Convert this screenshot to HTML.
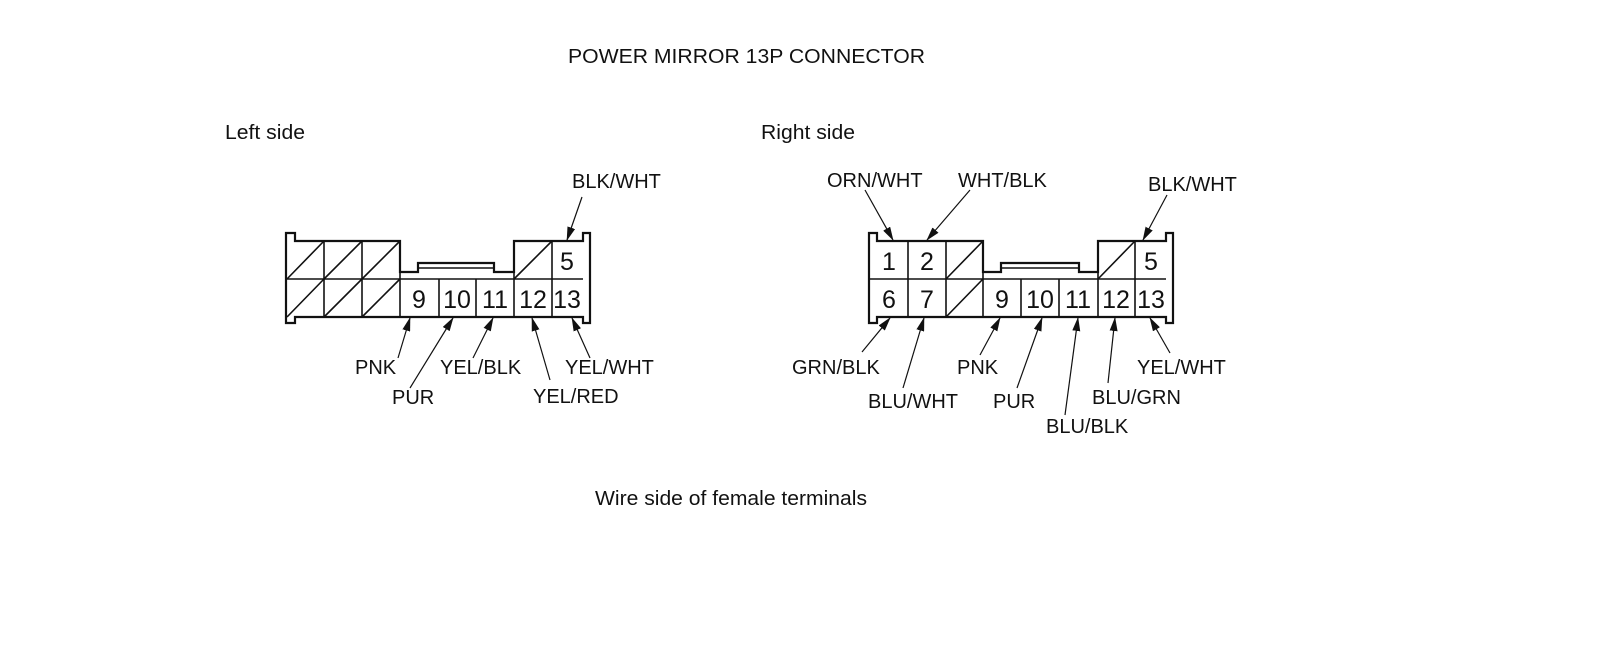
<!DOCTYPE html>
<html><head><meta charset="utf-8"><style>
html,body{margin:0;padding:0;background:#fff;}
svg{display:block;}
text{font-family:"Liberation Sans",Arial,sans-serif;fill:#111;}
</style></head><body>
<svg width="1600" height="672" viewBox="0 0 1600 672" xmlns="http://www.w3.org/2000/svg">
<defs>
<marker id="ah" markerWidth="14" markerHeight="8" refX="13" refY="4" orient="auto" markerUnits="userSpaceOnUse">
<path d="M0,0 L14,4 L0,8 Z" fill="#111"/>
</marker>
</defs>
<rect width="1600" height="672" fill="#fff"/>

<text x="568" y="63" font-size="20" textLength="357" lengthAdjust="spacingAndGlyphs">POWER MIRROR 13P CONNECTOR</text>
<text x="225" y="139" font-size="20" textLength="80" lengthAdjust="spacingAndGlyphs">Left side</text>
<text x="761" y="139" font-size="20" textLength="94" lengthAdjust="spacingAndGlyphs">Right side</text>
<text x="595" y="505" font-size="20" textLength="272" lengthAdjust="spacingAndGlyphs">Wire side of female terminals</text>

<!-- LEFT CONNECTOR -->
<g stroke="#111" fill="none" stroke-width="2.2">
<path d="M286,233 H295 V241 H400 V272 H418 V263 H494 V272 H514 V241 H583 V233 H590 V323 H583 V317 H295 V323 H286 Z"/>
</g>
<g stroke="#111" fill="none" stroke-width="1.6">
<line x1="286" y1="279" x2="583" y2="279"/>
<line x1="400" y1="272" x2="400" y2="317"/>
<line x1="324" y1="241" x2="324" y2="317"/>
<line x1="362" y1="241" x2="362" y2="317"/>
<line x1="439" y1="279" x2="439" y2="317"/>
<line x1="476" y1="279" x2="476" y2="317"/>
<line x1="514" y1="272" x2="514" y2="317"/>
<line x1="552" y1="241" x2="552" y2="317"/>
<line x1="418" y1="268" x2="494" y2="268"/>
<!-- slashes -->
<line x1="287" y1="279" x2="324" y2="241"/>
<line x1="324" y1="279" x2="362" y2="241"/>
<line x1="362" y1="279" x2="400" y2="241"/>
<line x1="287" y1="317" x2="324" y2="279"/>
<line x1="324" y1="317" x2="362" y2="279"/>
<line x1="362" y1="317" x2="400" y2="279"/>
<line x1="514" y1="279" x2="552" y2="241"/>
</g>
<g font-size="25" text-anchor="middle">
<text x="567" y="270">5</text>
<text x="419" y="308">9</text>
<text x="457" y="308">10</text>
<text x="495" y="308">11</text>
<text x="533" y="308">12</text>
<text x="567" y="308">13</text>
</g>
<g stroke="#111" stroke-width="1.2" marker-end="url(#ah)">
<line x1="582" y1="197" x2="567" y2="240"/>
<line x1="398" y1="358" x2="410" y2="318"/>
<line x1="410" y1="388" x2="453" y2="318"/>
<line x1="473" y1="358" x2="493" y2="318"/>
<line x1="550" y1="380" x2="532" y2="318"/>
<line x1="590" y1="358" x2="572" y2="318"/>
</g>
<g font-size="20">
<text x="572" y="188">BLK/WHT</text>
<text x="355" y="374">PNK</text>
<text x="392" y="404">PUR</text>
<text x="440" y="374">YEL/BLK</text>
<text x="533" y="403">YEL/RED</text>
<text x="565" y="374">YEL/WHT</text>
</g>

<!-- RIGHT CONNECTOR -->
<g stroke="#111" fill="none" stroke-width="2.2">
<path d="M869,233 H877 V241 H983 V272 H1001 V263 H1079 V272 H1098 V241 H1166 V233 H1173 V323 H1166 V317 H877 V323 H869 Z"/>
</g>
<g stroke="#111" fill="none" stroke-width="1.6">
<line x1="869" y1="279" x2="1166" y2="279"/>
<line x1="908" y1="241" x2="908" y2="317"/>
<line x1="946" y1="241" x2="946" y2="317"/>
<line x1="983" y1="272" x2="983" y2="317"/>
<line x1="1021" y1="279" x2="1021" y2="317"/>
<line x1="1059" y1="279" x2="1059" y2="317"/>
<line x1="1098" y1="272" x2="1098" y2="317"/>
<line x1="1135" y1="241" x2="1135" y2="317"/>
<line x1="1001" y1="268" x2="1079" y2="268"/>
<line x1="946" y1="279" x2="983" y2="241"/>
<line x1="946" y1="317" x2="983" y2="279"/>
<line x1="1098" y1="279" x2="1135" y2="241"/>
</g>
<g font-size="25" text-anchor="middle">
<text x="889" y="270">1</text>
<text x="927" y="270">2</text>
<text x="1151" y="270">5</text>
<text x="889" y="308">6</text>
<text x="927" y="308">7</text>
<text x="1002" y="308">9</text>
<text x="1040" y="308">10</text>
<text x="1078" y="308">11</text>
<text x="1116" y="308">12</text>
<text x="1151" y="308">13</text>
</g>
<g stroke="#111" stroke-width="1.2" marker-end="url(#ah)">
<line x1="865" y1="190" x2="893" y2="240"/>
<line x1="970" y1="190" x2="927" y2="240"/>
<line x1="1167" y1="195" x2="1143" y2="240"/>
<line x1="862" y1="352" x2="890" y2="318"/>
<line x1="903" y1="388" x2="924" y2="318"/>
<line x1="980" y1="355" x2="1000" y2="318"/>
<line x1="1017" y1="388" x2="1042" y2="318"/>
<line x1="1065" y1="415" x2="1078" y2="318"/>
<line x1="1108" y1="383" x2="1115" y2="318"/>
<line x1="1170" y1="353" x2="1150" y2="318"/>
</g>
<g font-size="20">
<text x="827" y="187">ORN/WHT</text>
<text x="958" y="187">WHT/BLK</text>
<text x="1148" y="191">BLK/WHT</text>
<text x="792" y="374">GRN/BLK</text>
<text x="868" y="408">BLU/WHT</text>
<text x="957" y="374">PNK</text>
<text x="993" y="408">PUR</text>
<text x="1046" y="433">BLU/BLK</text>
<text x="1092" y="404">BLU/GRN</text>
<text x="1137" y="374">YEL/WHT</text>
</g>
</svg>
</body></html>
